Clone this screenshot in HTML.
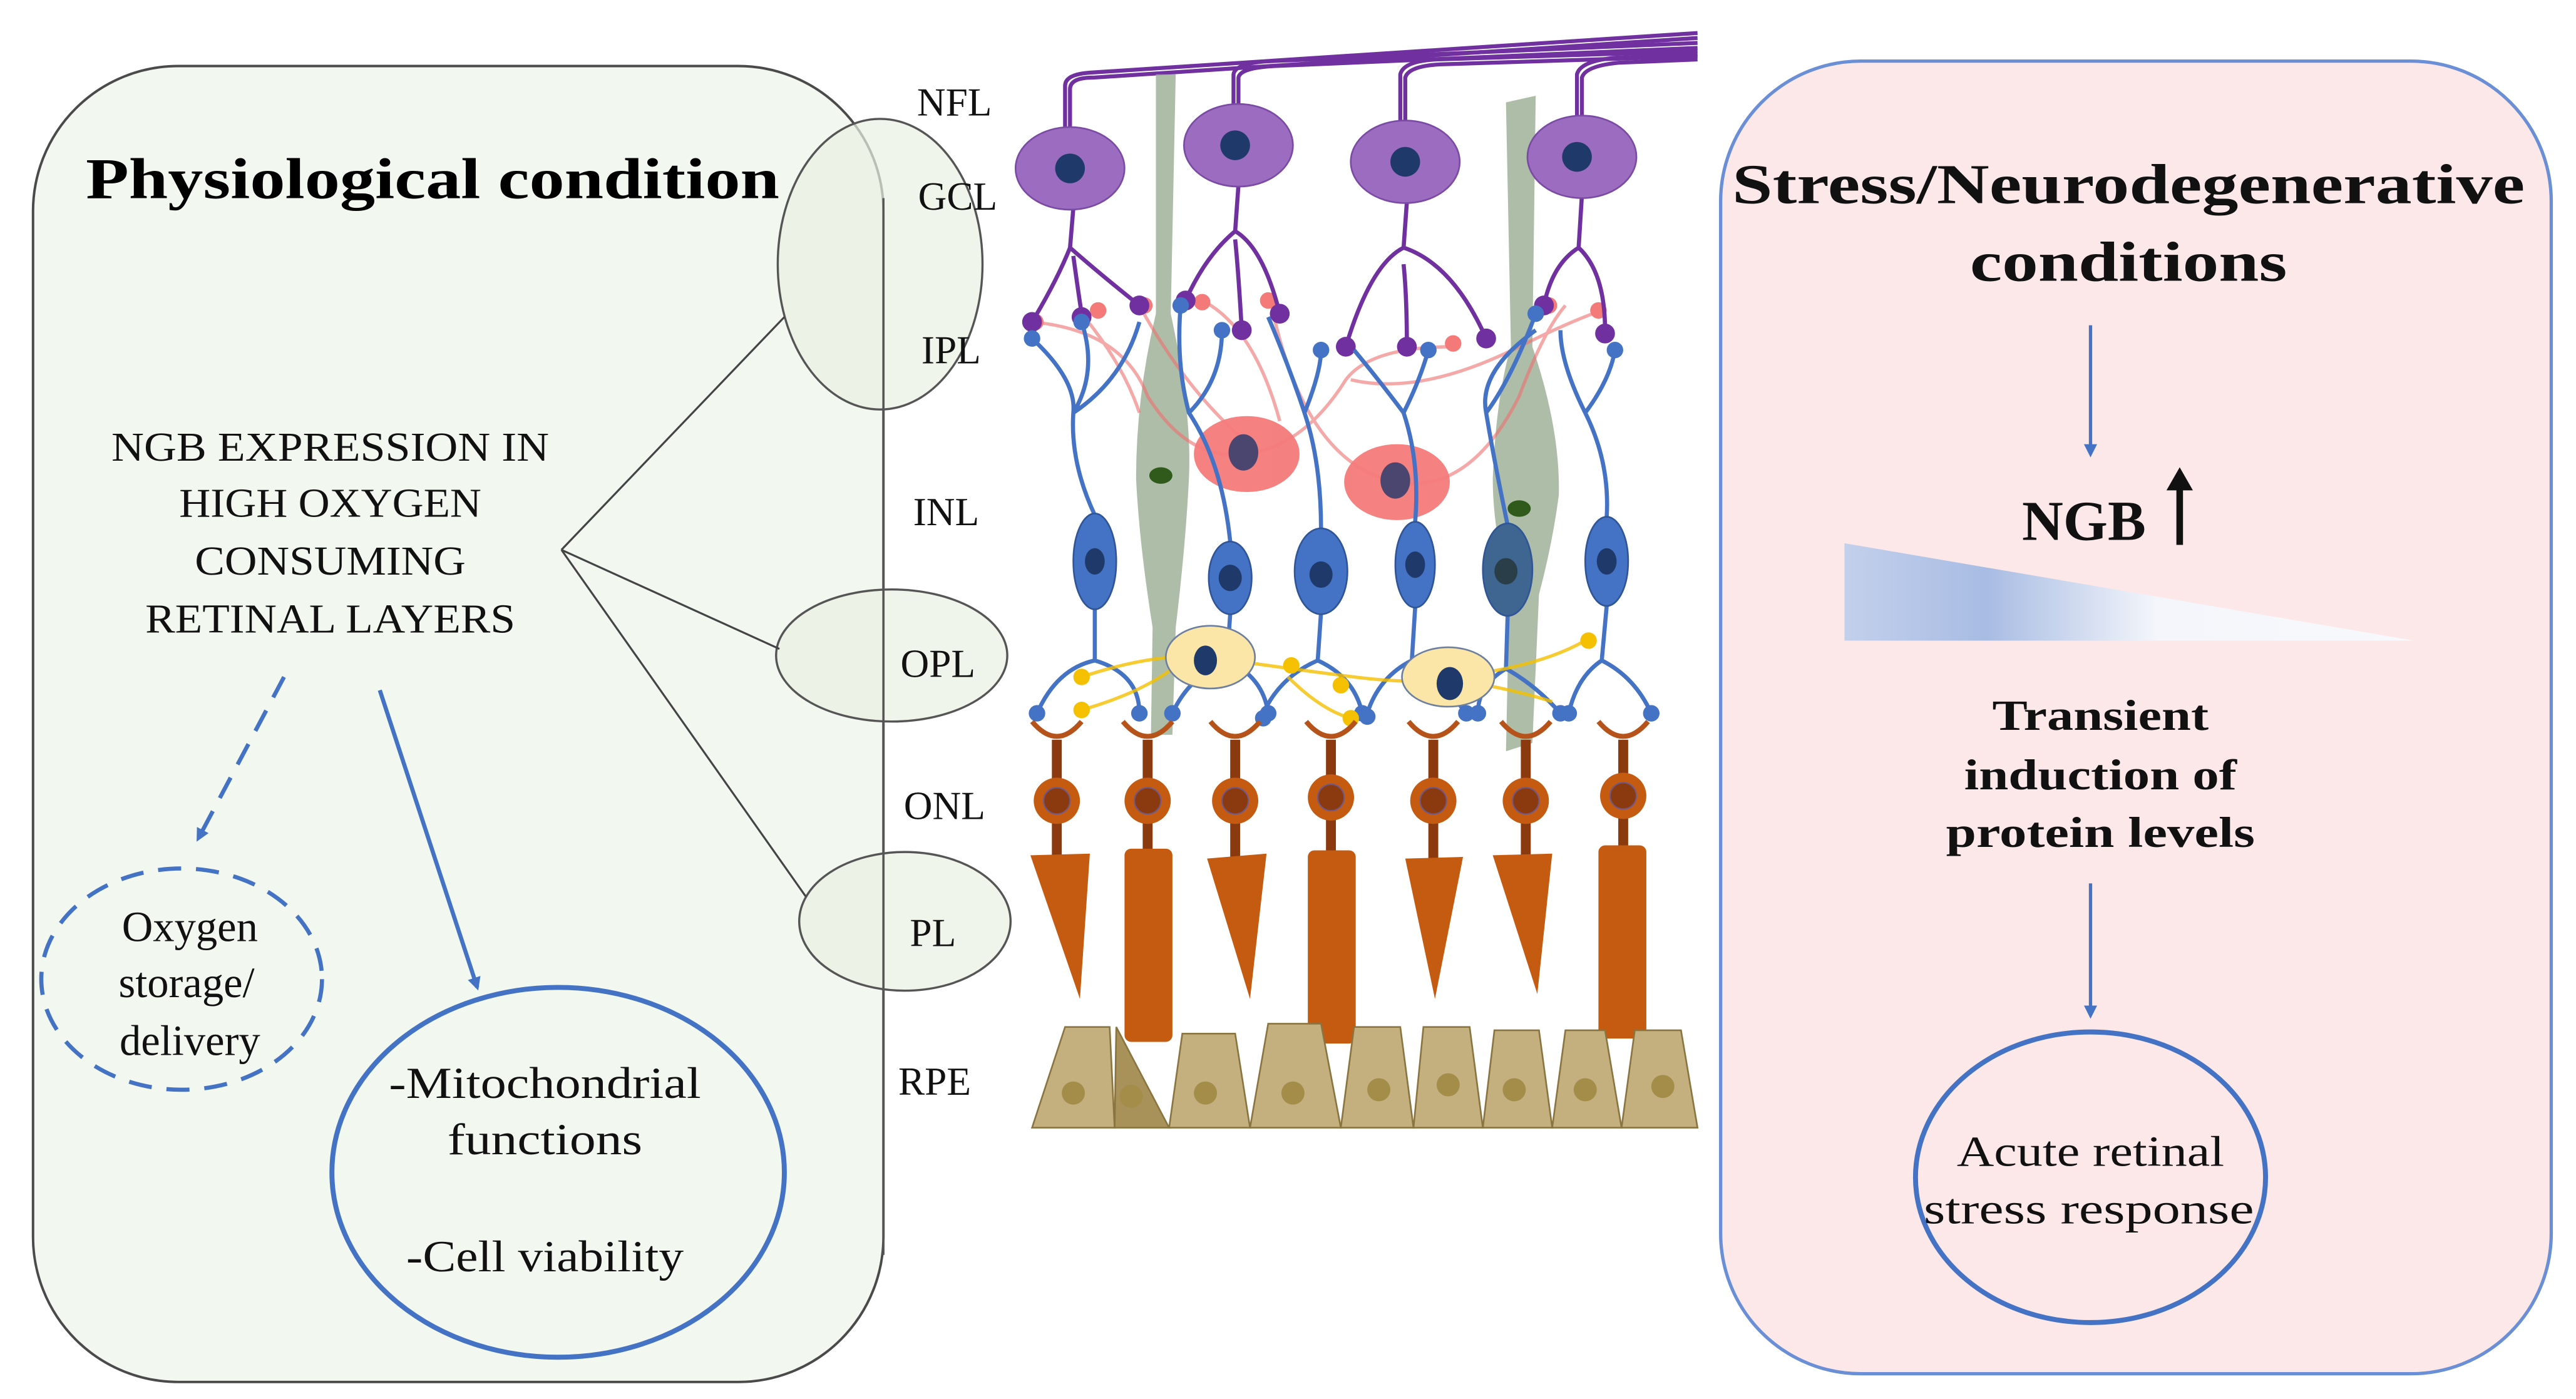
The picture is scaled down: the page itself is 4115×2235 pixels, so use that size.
<!DOCTYPE html>
<html><head><meta charset="utf-8"><style>
html,body{margin:0;padding:0;background:#fff;}
svg{display:block;}
text{font-family:"Liberation Serif",serif;}
</style></head><body>
<svg width="4115" height="2235" viewBox="0 0 1560 847.3" preserveAspectRatio="none" xmlns="http://www.w3.org/2000/svg">
<defs>
<marker id="ah" markerWidth="8" markerHeight="8" refX="6" refY="4" orient="auto" markerUnits="userSpaceOnUse"><path d="M0,0 L8,4 L0,8 z" fill="#4472c4"/></marker>
<linearGradient id="tg" x1="0" y1="0" x2="1" y2="0">
<stop offset="0" stop-color="#c3d0ec"/><stop offset="0.25" stop-color="#a8bce3"/><stop offset="0.55" stop-color="#f4f6fb"/><stop offset="1" stop-color="#f8f9fc"/></linearGradient>
</defs>
<!-- Left panel -->
<rect x="20" y="40" width="515" height="797" rx="88" fill="#f2f7ef" stroke="#4a4a4a" stroke-width="1.5"/>
<text x="262" y="120" font-size="35" font-weight="bold" text-anchor="middle" textLength="420" lengthAdjust="spacingAndGlyphs">Physiological condition</text>
<g font-size="25" text-anchor="middle" fill="#111">
<text x="200" y="279" textLength="265" lengthAdjust="spacingAndGlyphs">NGB EXPRESSION IN</text>
<text x="200" y="313" textLength="183" lengthAdjust="spacingAndGlyphs">HIGH OXYGEN</text>
<text x="200" y="348" textLength="164" lengthAdjust="spacingAndGlyphs">CONSUMING</text>
<text x="200" y="383" textLength="224" lengthAdjust="spacingAndGlyphs">RETINAL LAYERS</text>
</g>
<!-- layer ellipses -->
<g fill="#e9f1e3" fill-opacity="0.7" stroke="#555" stroke-width="1.3">
<ellipse cx="533" cy="160" rx="62" ry="88"/>
<ellipse cx="540" cy="397" rx="70" ry="40"/>
<ellipse cx="548" cy="558" rx="64" ry="42"/>
</g>
<path d="M535,120 L535,760" stroke="#555" stroke-width="1.3"/>
<g stroke="#444" stroke-width="1.2">
<line x1="340" y1="333" x2="475" y2="192"/>
<line x1="340" y1="333" x2="472" y2="393"/>
<line x1="340" y1="333" x2="488" y2="543"/>
</g>
<g font-size="24" text-anchor="middle" fill="#111">
<text x="578" y="70">NFL</text><text x="580" y="127">GCL</text><text x="576" y="220">IPL</text>
<text x="573" y="318">INL</text><text x="568" y="410">OPL</text><text x="572" y="496">ONL</text>
<text x="565" y="573">PL</text><text x="566" y="663">RPE</text>
</g>
<!-- left arrows / circles -->
<line x1="172" y1="410" x2="120" y2="508" stroke="#4472c4" stroke-width="2.5" stroke-dasharray="14,9" marker-end="url(#ah)"/>
<ellipse cx="110" cy="593" rx="85" ry="67" fill="none" stroke="#4472c4" stroke-width="2.5" stroke-dasharray="14,9"/>
<g font-size="26" text-anchor="middle" fill="#111">
<text x="115" y="570">Oxygen</text><text x="113" y="604">storage/</text><text x="115" y="639">delivery</text>
</g>
<line x1="230" y1="418" x2="289" y2="598" stroke="#4472c4" stroke-width="2.5" marker-end="url(#ah)"/>
<ellipse cx="338" cy="710" rx="137" ry="112" fill="none" stroke="#4472c4" stroke-width="3"/>
<g font-size="27" text-anchor="middle" fill="#111">
<text x="330" y="665" textLength="189" lengthAdjust="spacingAndGlyphs">-Mitochondrial</text><text x="330" y="699" textLength="118" lengthAdjust="spacingAndGlyphs">functions</text><text x="330" y="770" textLength="168" lengthAdjust="spacingAndGlyphs">-Cell viability</text>
</g>
<!-- Right panel -->
<rect x="1042" y="37" width="503" height="795" rx="85" fill="#fde8e9" stroke="#6a8fd6" stroke-width="2"/>
<g font-weight="bold" text-anchor="middle" fill="#111">
<text x="1289" y="123" font-size="34" textLength="480" lengthAdjust="spacingAndGlyphs">Stress/Neurodegenerative</text>
<text x="1289" y="170" font-size="34" textLength="192" lengthAdjust="spacingAndGlyphs">conditions</text>
<text x="1262" y="327" font-size="34" textLength="75" lengthAdjust="spacingAndGlyphs">NGB</text>
<text x="1272" y="442" font-size="26" textLength="131" lengthAdjust="spacingAndGlyphs">Transient</text>
<text x="1272" y="478" font-size="26" textLength="165" lengthAdjust="spacingAndGlyphs">induction of</text>
<text x="1272" y="513" font-size="26" textLength="187" lengthAdjust="spacingAndGlyphs">protein levels</text>
</g>
<line x1="1320" y1="330" x2="1320" y2="295" stroke="#111" stroke-width="4"/>
<path d="M1312,297 L1320,283 L1328,297 z" fill="#111"/>
<line x1="1266" y1="197" x2="1266" y2="275" stroke="#4472c4" stroke-width="2" marker-end="url(#ah)"/>
<polygon points="1117,329 1117,388 1462,388" fill="url(#tg)"/>
<line x1="1266" y1="535" x2="1266" y2="615" stroke="#4472c4" stroke-width="2" marker-end="url(#ah)"/>
<ellipse cx="1266" cy="713" rx="106" ry="88" fill="none" stroke="#4472c4" stroke-width="3"/>
<g font-size="26" text-anchor="middle" fill="#111">
<text x="1266" y="706" textLength="162" lengthAdjust="spacingAndGlyphs">Acute retinal</text><text x="1265" y="741" textLength="200" lengthAdjust="spacingAndGlyphs">stress response</text>
</g>
<!-- Retina -->
<g>
<!-- NFL bundle -->
<g fill="none" stroke="#7030a0" stroke-width="2.4">
<path d="M645,80 L645,52 Q645,45 660,44 L1028,20"/>
<path d="M648,80 L648,54 Q648,47 662,47 L1028,23"/>
<path d="M747,65 L747,45 Q748,38 770,37 L1028,26"/>
<path d="M750,65 L750,47 Q751,41 772,40 L1028,29"/>
<path d="M848,75 L848,45 Q850,37 870,36 L1028,31"/>
<path d="M851,75 L851,47 Q853,40 872,39 L1028,34"/>
<path d="M955,72 L955,45 Q957,37 978,35 L1028,33"/>
<path d="M958,72 L958,47 Q960,40 980,38 L1028,36"/>
</g>
<!-- Muller glia -->
<g fill="#9aac92" opacity="0.8">
<path d="M700,45 L712,45 L709,190 Q722,250 720,290 Q718,330 712,380 L710,445 L697,445 L698,380 Q690,330 688,290 Q688,240 700,190 Z"/>
<path d="M912,62 L930,58 L928,210 Q945,260 944,300 Q940,330 932,360 L928,450 L912,455 L914,360 Q904,320 904,290 Q906,240 915,210 Z"/>
</g>
<g fill="#2f5a1c"><ellipse cx="703" cy="288" rx="7" ry="5"/><ellipse cx="920" cy="308" rx="7" ry="5"/></g>
<!-- amacrine processes -->
<g fill="none" stroke="#f07070" stroke-width="2" opacity="0.6">
<path d="M625,195 Q680,200 695,240 Q720,280 755,275 Q790,270 815,230 Q830,210 880,210"/>
<path d="M655,190 Q680,220 690,250"/>
<path d="M690,185 Q720,240 760,272"/>
<path d="M730,183 Q760,200 775,255"/>
<path d="M770,185 Q790,280 845,292 Q890,300 920,240 Q935,200 948,185"/>
<path d="M818,230 Q860,240 920,210 Q950,195 970,188"/>
</g>
<g fill="#f47a7a"><circle cx="627" cy="195" r="5"/><circle cx="665" cy="188" r="5"/><circle cx="693" cy="185" r="5"/><circle cx="728" cy="183" r="5"/><circle cx="768" cy="182" r="5"/><circle cx="880" cy="208" r="5"/><circle cx="938" cy="185" r="5"/><circle cx="968" cy="188" r="5"/></g>
<!-- Ganglion cells -->
<g fill="none" stroke="#7030a0" stroke-width="2.5">
<path d="M650,126 L648,150 Q640,170 625,195 M648,150 Q665,165 690,185 M650,155 Q652,170 655,190"/>
<path d="M750,112 L748,140 Q730,155 718,182 M748,140 Q765,150 775,190 M748,145 Q750,165 752,200"/>
<path d="M852,122 L850,150 Q830,160 815,210 M850,150 Q880,160 900,205 M850,160 Q852,180 852,210"/>
<path d="M958,118 L956,150 Q940,160 935,185 M956,150 Q972,165 972,200"/>
</g>
<g fill="#7030a0"><circle cx="625" cy="195" r="6"/><circle cx="690" cy="185" r="6"/><circle cx="655" cy="192" r="6"/><circle cx="718" cy="182" r="6"/><circle cx="775" cy="190" r="6"/><circle cx="752" cy="200" r="6"/><circle cx="815" cy="210" r="6"/><circle cx="900" cy="205" r="6"/><circle cx="852" cy="210" r="6"/><circle cx="935" cy="185" r="6"/><circle cx="972" cy="202" r="6"/></g>
<g fill="#9b6cc0" stroke="#7a4aa5" stroke-width="1">
<ellipse cx="648" cy="102" rx="33" ry="25"/><ellipse cx="750" cy="88" rx="33" ry="25"/><ellipse cx="851" cy="98" rx="33" ry="25"/><ellipse cx="958" cy="95" rx="33" ry="25"/>
</g>
<g fill="#1f3a6a"><circle cx="648" cy="102" r="9"/><circle cx="748" cy="88" r="9"/><circle cx="851" cy="98" r="9"/><circle cx="955" cy="95" r="9"/></g>
<!-- amacrine cells -->
<g fill="#f47a7a" opacity="0.95"><ellipse cx="755" cy="275" rx="32" ry="23"/><ellipse cx="846" cy="292" rx="32" ry="23"/></g>
<g fill="#4a4670"><ellipse cx="753" cy="274" rx="9" ry="11"/><ellipse cx="845" cy="291" rx="9" ry="11"/></g>
<!-- bipolar processes -->
<g fill="none" stroke="#4472c4" stroke-width="2.5">
<path d="M663,312 Q648,280 650,250 Q652,230 625,205 M650,250 Q665,225 655,195 M650,250 Q680,230 690,195"/>
<path d="M745,328 Q740,280 720,250 Q712,220 715,185 M720,250 Q740,230 740,200"/>
<path d="M800,320 Q800,280 790,250 Q780,220 768,192 M790,250 Q800,225 800,212"/>
<path d="M857,316 Q860,280 850,250 Q835,230 820,212 M850,250 Q860,230 865,212"/>
<path d="M913,318 Q905,280 900,250 Q895,225 930,200 M900,250 Q915,230 930,190"/>
<path d="M973,313 Q975,280 960,250 Q945,220 945,200 M960,250 Q975,230 978,212"/>
<path d="M663,368 L663,400 Q640,405 628,432 M663,400 Q690,408 690,432"/>
<path d="M745,372 L743,400 Q720,410 710,432 M743,400 Q765,410 768,432"/>
<path d="M800,371 L798,400 Q775,410 765,432 M798,400 Q820,410 825,432"/>
<path d="M857,368 L855,400 Q835,410 828,432 M855,400 Q875,415 888,432"/>
<path d="M913,373 L912,405 Q895,415 895,432 M912,405 Q930,415 945,432"/>
<path d="M973,367 L970,400 Q955,410 950,432 M970,400 Q990,410 1000,432"/>
</g>
<g fill="#4472c4"><circle cx="625" cy="205" r="5"/><circle cx="655" cy="195" r="5"/><circle cx="715" cy="185" r="5"/><circle cx="740" cy="200" r="5"/><circle cx="800" cy="212" r="5"/><circle cx="865" cy="212" r="5"/><circle cx="930" cy="190" r="5"/><circle cx="978" cy="212" r="5"/>
<circle cx="628" cy="432" r="5"/><circle cx="690" cy="432" r="5"/><circle cx="710" cy="432" r="5"/><circle cx="768" cy="432" r="5"/><circle cx="765" cy="435" r="5"/><circle cx="825" cy="432" r="5"/><circle cx="828" cy="434" r="5"/><circle cx="888" cy="432" r="5"/><circle cx="895" cy="432" r="5"/><circle cx="945" cy="432" r="5"/><circle cx="950" cy="432" r="5"/><circle cx="1000" cy="432" r="5"/></g>
<!-- horizontal processes -->
<g fill="none" stroke="#f5c000" stroke-width="2" opacity="0.8">
<path d="M655,410 Q700,395 733,398 Q780,405 820,410 Q860,415 877,410 Q930,405 960,388"/>
<path d="M655,430 Q690,420 710,405 M780,410 Q800,430 818,435 M900,415 Q925,420 940,425"/>
</g>
<g fill="#f5c000"><circle cx="655" cy="410" r="5"/><circle cx="655" cy="430" r="5"/><circle cx="782" cy="403" r="5"/><circle cx="812" cy="415" r="5"/><circle cx="818" cy="435" r="5"/><circle cx="962" cy="388" r="5"/></g>
<g fill="#fbe6a8" stroke="#6d7fa0" stroke-width="1"><ellipse cx="733" cy="398" rx="27" ry="19"/><ellipse cx="877" cy="410" rx="28" ry="18"/></g>
<g fill="#1f3a6a"><ellipse cx="730" cy="400" rx="7" ry="9"/><ellipse cx="878" cy="414" rx="8" ry="10"/></g>
<!-- bipolar cells -->
<g fill="#4472c4" stroke="#2f5597" stroke-width="1">
<ellipse cx="663" cy="340" rx="13" ry="29"/><ellipse cx="745" cy="350" rx="13" ry="22"/><ellipse cx="800" cy="346" rx="16" ry="26"/><ellipse cx="857" cy="342" rx="12" ry="26"/><ellipse cx="913" cy="345" rx="15" ry="28" fill="#3e6690"/><ellipse cx="973" cy="340" rx="13" ry="27"/>
</g>
<g fill="#1f3a6a"><ellipse cx="663" cy="340" rx="6" ry="8"/><ellipse cx="745" cy="350" rx="7" ry="8"/><ellipse cx="800" cy="348" rx="7" ry="8"/><ellipse cx="857" cy="342" rx="6" ry="8"/><ellipse cx="912" cy="346" rx="7" ry="8" fill="#2a3e4a"/><ellipse cx="973" cy="340" rx="6" ry="8"/></g>
<!-- Photoreceptors -->
<g fill="none" stroke="#b5531a" stroke-width="3">
<path d="M625,437 Q640,455 655,437"/><path d="M680,437 Q695,455 710,437"/><path d="M733,437 Q748,455 763,437"/><path d="M791,437 Q806,455 821,437"/><path d="M853,437 Q868,455 883,437"/><path d="M909,437 Q924,455 939,437"/><path d="M968,437 Q983,455 998,437"/>
</g>
<g fill="#8b3a0f">
<rect x="637" y="448" width="6" height="72"/><rect x="692" y="448" width="6" height="70"/><rect x="745" y="448" width="6" height="72"/><rect x="803" y="448" width="6" height="70"/><rect x="865" y="448" width="6" height="72"/><rect x="921" y="448" width="6" height="72"/><rect x="980" y="448" width="6" height="70"/>
</g>
<g fill="#c55a11"><circle cx="640" cy="485" r="14"/><circle cx="695" cy="485" r="14"/><circle cx="748" cy="485" r="14"/><circle cx="806" cy="483" r="14"/><circle cx="868" cy="485" r="14"/><circle cx="924" cy="485" r="14"/><circle cx="983" cy="482" r="14"/></g>
<g fill="#8b3a0f" stroke="#6d5a8a" stroke-width="0.8"><circle cx="640" cy="485" r="8"/><circle cx="695" cy="485" r="8"/><circle cx="748" cy="485" r="8"/><circle cx="806" cy="483" r="8"/><circle cx="868" cy="485" r="8"/><circle cx="924" cy="485" r="8"/><circle cx="983" cy="482" r="8"/></g>
<g fill="#c55a11">
<polygon points="624,518 660,517 654,605"/>
<polygon points="731,520 767,517 757,605"/>
<polygon points="851,520 886,519 869,605"/>
<polygon points="904,518 940,517 931,602"/>
<rect x="681" y="514" width="29" height="117" rx="4"/>
<rect x="792" y="515" width="29" height="117" rx="4"/>
<rect x="968" y="512" width="29" height="117" rx="4"/>
</g>
<!-- RPE -->
<g fill="#c3b07e" stroke="#8a7440" stroke-width="1">
<polygon points="625,683 645,622 672,622 675,683"/>
<polygon points="675,683 676,622 708,683" fill="#a8925a"/>
<polygon points="708,683 716,626 748,626 757,683"/>
<polygon points="757,683 768,620 800,620 812,683"/>
<polygon points="812,683 820,622 848,622 856,683"/>
<polygon points="856,683 862,622 890,622 898,683"/>
<polygon points="898,683 905,624 932,624 940,683"/>
<polygon points="940,683 948,624 972,624 982,683"/>
<polygon points="982,683 990,624 1018,624 1028,683"/>
</g>
<g fill="#a48c49"><circle cx="650" cy="662" r="7"/><circle cx="685" cy="664" r="7"/><circle cx="730" cy="662" r="7"/><circle cx="783" cy="662" r="7"/><circle cx="835" cy="660" r="7"/><circle cx="877" cy="657" r="7"/><circle cx="917" cy="660" r="7"/><circle cx="960" cy="660" r="7"/><circle cx="1007" cy="658" r="7"/></g>
</g>
</svg>
</body></html>
